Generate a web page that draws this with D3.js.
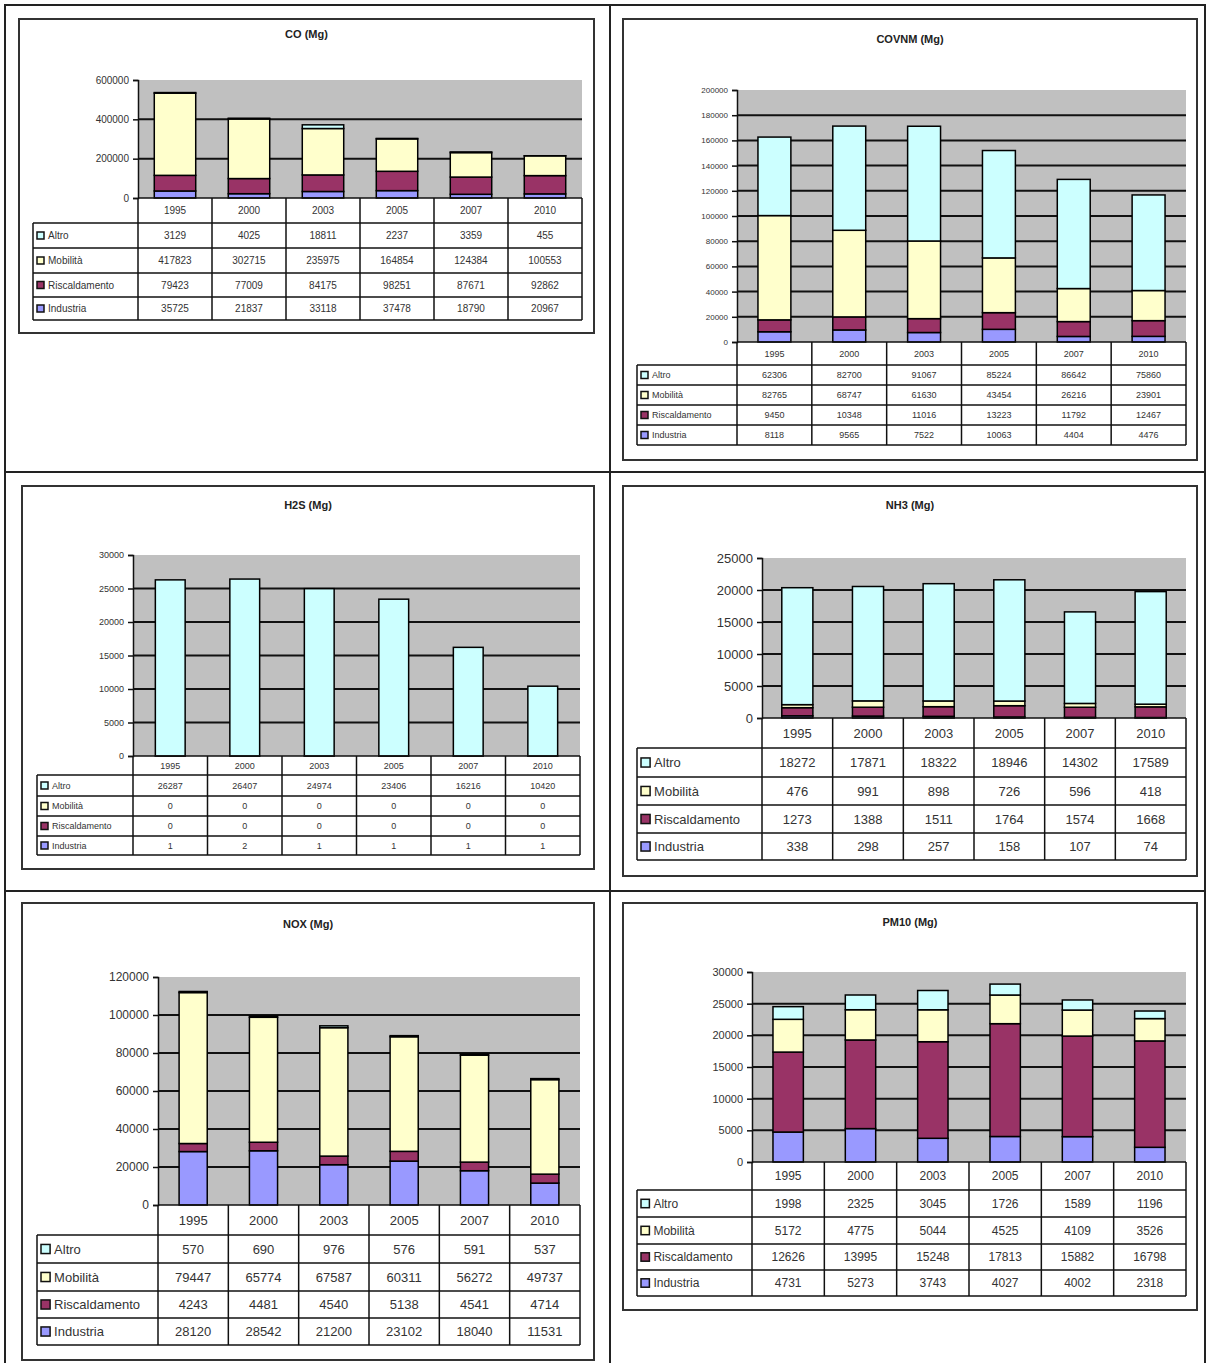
<!DOCTYPE html>
<html>
<head>
<meta charset="utf-8">
<script src="https://cdn.jsdelivr.net/npm/d3@7"></script>
<style>
  body { margin: 0; background: #fff; }
  svg { display: block; font-family: "Liberation Sans", Arial, sans-serif; }
</style>
</head>
<body>
<div id="page"></div>
<script>
// categories
var years = ["1995", "2000", "2003", "2005", "2007", "2010"];
var sources = ["Altro", "Mobilità", "Riscaldamento", "Industria"]; // table row order
var stackOrder = ["Industria", "Riscaldamento", "Mobilità", "Altro"]; // bottom -> top
var sourceColors = { "Altro": "#ccffff", "Mobilità": "#ffffcc", "Riscaldamento": "#993366", "Industria": "#9999ff" };

// values, rows in table order: Altro, Mobilità, Riscaldamento, Industria
var coValues = [
  [3129, 4025, 18811, 2237, 3359, 455],
  [417823, 302715, 235975, 164854, 124384, 100553],
  [79423, 77009, 84175, 98251, 87671, 92862],
  [35725, 21837, 33118, 37478, 18790, 20967]
];
var covnmValues = [
  [62306, 82700, 91067, 85224, 86642, 75860],
  [82765, 68747, 61630, 43454, 26216, 23901],
  [9450, 10348, 11016, 13223, 11792, 12467],
  [8118, 9565, 7522, 10063, 4404, 4476]
];
var h2sValues = [
  [26287, 26407, 24974, 23406, 16216, 10420],
  [0, 0, 0, 0, 0, 0],
  [0, 0, 0, 0, 0, 0],
  [1, 2, 1, 1, 1, 1]
];
var nh3Values = [
  [18272, 17871, 18322, 18946, 14302, 17589],
  [476, 991, 898, 726, 596, 418],
  [1273, 1388, 1511, 1764, 1574, 1668],
  [338, 298, 257, 158, 107, 74]
];
var noxValues = [
  [570, 690, 976, 576, 591, 537],
  [79447, 65774, 67587, 60311, 56272, 49737],
  [4243, 4481, 4540, 5138, 4541, 4714],
  [28120, 28542, 21200, 23102, 18040, 11531]
];
var pm10Values = [
  [1998, 2325, 3045, 1726, 1589, 1196],
  [5172, 4775, 5044, 4525, 4109, 3526],
  [12626, 13995, 15248, 17813, 15882, 16798],
  [4731, 5273, 3743, 4027, 4002, 2318]
];

// tick labels
var coTicks = [0, 200000, 400000, 600000];
var covnmTicks = [0, 20000, 40000, 60000, 80000, 100000, 120000, 140000, 160000, 180000, 200000];
var h2sTicks = [0, 5000, 10000, 15000, 20000, 25000, 30000];
var nh3Ticks = [0, 5000, 10000, 15000, 20000, 25000];
var noxTicks = [0, 20000, 40000, 60000, 80000, 100000, 120000];
var pm10Ticks = [0, 5000, 10000, 15000, 20000, 25000, 30000];

var panels = [
  { title: "CO (Mg)", values: coValues, ticks: coTicks, titleY: 38,
    box: [19, 19, 594, 333], plot: [138, 80, 582, 198], tableLeft: 33,
    rows: [223, 248, 273, 297, 320], barRatio: 0.56, font: 10, tickFont: 10 },
  { title: "COVNM (Mg)", values: covnmValues, ticks: covnmTicks, titleY: 43,
    box: [623, 19, 1197, 460], plot: [737, 90, 1186, 342], tableLeft: 637,
    rows: [365, 385, 405, 425, 445], barRatio: 0.44, font: 9, tickFont: 8 },
  { title: "H2S (Mg)", values: h2sValues, ticks: h2sTicks, titleY: 509,
    box: [22, 486, 594, 869], plot: [133, 555, 580, 756], tableLeft: 37,
    rows: [775, 796, 816, 836, 855], barRatio: 0.4, font: 9, tickFont: 9 },
  { title: "NH3 (Mg)", values: nh3Values, ticks: nh3Ticks, titleY: 509,
    box: [623, 486, 1197, 876], plot: [762, 558, 1186, 718], tableLeft: 637,
    rows: [748, 777, 805, 833, 860], barRatio: 0.44, font: 13, tickFont: 13 },
  { title: "NOX (Mg)", values: noxValues, ticks: noxTicks, titleY: 928,
    box: [22, 903, 594, 1360], plot: [158, 977, 580, 1205], tableLeft: 37,
    rows: [1235, 1263, 1291, 1318, 1345], barRatio: 0.4, font: 13, tickFont: 12 },
  { title: "PM10 (Mg)", values: pm10Values, ticks: pm10Ticks, titleY: 926,
    box: [623, 903, 1197, 1310], plot: [752, 972, 1186, 1162], tableLeft: 637,
    rows: [1190, 1217, 1244, 1270, 1296], barRatio: 0.42, font: 12, tickFont: 11 }
];

var svg = d3.select("#page").append("svg")
  .attr("width", 1209)
  .attr("height", 1363);

// page frame and dividers
svg.append("rect").attr("x", 5).attr("y", 5).attr("width", 1200).attr("height", 1370)
  .attr("fill", "none").attr("stroke", "#222").attr("stroke-width", 2);
svg.append("line").attr("x1", 610).attr("x2", 610).attr("y1", 5).attr("y2", 1363)
  .attr("stroke", "#222").attr("stroke-width", 2);
[472, 891].forEach(function(yy) {
  svg.append("line").attr("x1", 5).attr("x2", 1205).attr("y1", yy).attr("y2", yy)
    .attr("stroke", "#222").attr("stroke-width", 2);
});

function drawPanel(p) {
  var g = svg.append("g");
  var left = p.plot[0], top = p.plot[1], right = p.plot[2], bottom = p.plot[3];

  g.append("rect")
    .attr("x", p.box[0]).attr("y", p.box[1])
    .attr("width", p.box[2] - p.box[0]).attr("height", p.box[3] - p.box[1])
    .attr("fill", "#fff").attr("stroke", "#333").attr("stroke-width", 2);

  g.append("text")
    .attr("x", (p.box[0] + p.box[2]) / 2).attr("y", p.titleY)
    .attr("text-anchor", "middle")
    .attr("font-size", 11).attr("font-weight", "bold").attr("fill", "#222")
    .text(p.title);

  var x = d3.scaleBand().domain(years).range([left, right]);
  var y = d3.scaleLinear().domain([0, d3.max(p.ticks)]).range([bottom, top]);

  g.append("rect")
    .attr("x", left).attr("y", top)
    .attr("width", right - left).attr("height", bottom - top)
    .attr("fill", "#c0c0c0");

  g.selectAll(".grid")
    .data(p.ticks.filter(function(t) { return t > 0 && t < d3.max(p.ticks); }))
    .enter()
    .append("line")
    .attr("x1", left).attr("x2", right)
    .attr("y1", function(d) { return y(d); })
    .attr("y2", function(d) { return y(d); })
    .attr("stroke", "#111").attr("stroke-width", 2);

  // stacked bars
  var rowsData = years.map(function(yr, i) {
    var o = { year: yr };
    sources.forEach(function(s, k) { o[s] = p.values[k][i]; });
    return o;
  });
  var stacked = d3.stack().keys(stackOrder)(rowsData);
  var bw = x.bandwidth() * p.barRatio;

  g.selectAll(".layer")
    .data(stacked)
    .enter()
    .append("g")
    .attr("fill", function(d) { return sourceColors[d.key]; })
    .selectAll("rect")
    .data(function(d) { return d; })
    .enter()
    .append("rect")
    .attr("x", function(d) { return x(d.data.year) + (x.bandwidth() - bw) / 2; })
    .attr("y", function(d) { return y(d[1]); })
    .attr("width", bw)
    .attr("height", function(d) { return y(d[0]) - y(d[1]); })
    .attr("stroke", "#000").attr("stroke-width", 1.5);

  // y axis
  var axis = g.append("g")
    .attr("transform", "translate(" + left + ",0)")
    .call(d3.axisLeft(y).tickValues(p.ticks).tickSize(5).tickPadding(4).tickFormat(d3.format("d")));
  axis.select(".domain").attr("stroke", "#111").attr("stroke-width", 1.5);
  axis.selectAll(".tick line").attr("stroke", "#111").attr("stroke-width", 1.5);
  axis.selectAll(".tick text")
    .attr("font-size", p.tickFont).attr("fill", "#333")
    .attr("font-family", "Liberation Sans, Arial, sans-serif");

  // data table
  var tl = p.tableLeft, rowsY = p.rows, last = rowsY[rowsY.length - 1];
  var lineStyle = function(sel) { return sel.attr("stroke", "#111").attr("stroke-width", 1.5); };

  // header (years)
  g.selectAll(".yearLabel")
    .data(years)
    .enter()
    .append("text")
    .attr("x", function(d) { return x(d) + x.bandwidth() / 2; })
    .attr("y", (bottom + rowsY[0]) / 2)
    .attr("dy", "0.35em")
    .attr("text-anchor", "middle")
    .attr("font-size", p.font).attr("fill", "#333")
    .text(function(d) { return d; });

  // horizontal lines
  lineStyle(g.append("line").attr("x1", left).attr("x2", right).attr("y1", bottom).attr("y2", bottom));
  rowsY.forEach(function(ry) {
    lineStyle(g.append("line").attr("x1", tl).attr("x2", right).attr("y1", ry).attr("y2", ry));
  });
  // vertical lines
  lineStyle(g.append("line").attr("x1", tl).attr("x2", tl).attr("y1", rowsY[0]).attr("y2", last));
  years.forEach(function(yr) {
    lineStyle(g.append("line").attr("x1", x(yr)).attr("x2", x(yr)).attr("y1", bottom).attr("y2", last));
  });
  lineStyle(g.append("line").attr("x1", right).attr("x2", right).attr("y1", bottom).attr("y2", last));

  // row labels with legend keys and values
  sources.forEach(function(s, k) {
    var cy = (rowsY[k] + rowsY[k + 1]) / 2;
    var ks = Math.max(7, p.font * 0.7);
    g.append("rect")
      .attr("x", tl + 4).attr("y", cy - ks / 2)
      .attr("width", ks).attr("height", ks)
      .attr("fill", sourceColors[s]).attr("stroke", "#111").attr("stroke-width", 1.5);
    g.append("text")
      .attr("x", tl + 8 + ks).attr("y", cy).attr("dy", "0.35em")
      .attr("font-size", p.font).attr("fill", "#333")
      .text(s);
    g.selectAll(".val" + k)
      .data(p.values[k])
      .enter()
      .append("text")
      .attr("x", function(d, i) { return x(years[i]) + x.bandwidth() / 2; })
      .attr("y", cy).attr("dy", "0.35em")
      .attr("text-anchor", "middle")
      .attr("font-size", p.font).attr("fill", "#333")
      .text(function(d) { return d; });
  });
}

panels.forEach(drawPanel);
</script>
</body>
</html>
